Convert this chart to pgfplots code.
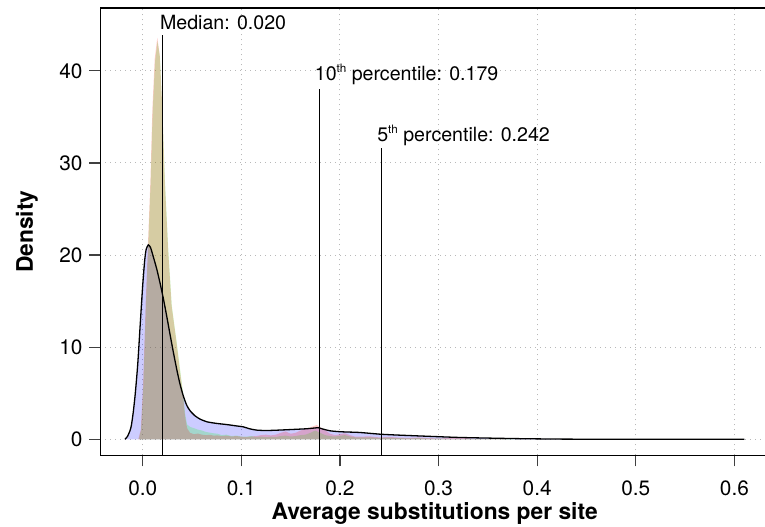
\documentclass[border=0pt]{standalone}
\usepackage{fontspec}
\setmainfont{TeX Gyre Heros}
\usepackage{pgfplots}
\usepackage{pgfplotstable}
\pgfplotsset{compat=1.18}

% overall density (outlined, blue)
\pgfplotstableread{
x y
-0.018 0
-0.0155 0.3
-0.013 0.9
-0.0115 1.5
-0.0095 3.0
-0.0075 5.0
-0.005 8.2
-0.0025 12.5
0 16.7
0.002 19.4
0.0035 20.6
0.0057 21.1
0.008 20.8
0.0108 19.8
0.0142 18.5
0.0175 17.0
0.0209 15.3
0.0243 13.4
0.0277 11.4
0.031 9.5
0.0345 7.6
0.0378 6.0
0.0412 4.7
0.0446 3.7
0.048 3.1
0.053 2.55
0.058 2.2
0.065 1.9
0.075 1.72
0.085 1.6
0.095 1.45
0.102 1.35
0.108 1.15
0.115 1.0
0.125 0.95
0.139 1.0
0.155 1.08
0.166 1.14
0.174 1.22
0.178 1.25
0.183 1.1
0.19 0.92
0.20 0.82
0.21 0.78
0.22 0.74
0.241 0.55
0.26 0.45
0.295 0.3
0.32 0.2
0.345 0.14
0.38 0.07
0.423 0.02
0.45 0.01
0.5 0.005
0.55 0.003
0.61 0
}\bluedens

\pgfplotstableread{
x y
-0.004 0
-0.0017 1.0
0.0006 5.7
0.0034 15
0.0081 28
0.0101 35.5
0.0125 41
0.0150 43.2
0.0175 41.5
0.020 35.5
0.0226 28
0.026 20.5
0.0295 14.5
0.0345 10.5
0.038 7.5
0.041 5.0
0.043 2.8
0.045 1.6
0.048 1.35
0.052 1.2
0.056 1.05
0.060 0.95
0.064 0.8
0.068 0.72
0.072 0.65
0.076 0.6
0.080 0.45
0.085 0.5
0.090 0.35
0.095 0.4
0.100 0.3
0.105 0.28
0.110 0.35
0.115 0.25
0.120 0.3
0.125 0.22
0.130 0.28
0.135 0.25
0.140 0.35
0.145 0.4
0.150 0.3
0.155 0.35
0.160 0.45
0.165 0.5
0.170 0.7
0.175 0.95
0.180 0.7
0.185 0.45
0.190 0.35
0.195 0.3
0.200 0.38
0.205 0.45
0.210 0.3
0.215 0.22
0.220 0.2
0.230 0.22
0.240 0.15
0.250 0.18
0.260 0.12
0.270 0.1
0.280 0.12
0.290 0.08
0.300 0.06
0.320 0.05
0.340 0.03
0.360 0.01
0.380 0
}\greendens

\pgfplotstableread{
x y
-0.0045 0
-0.002 1.0
0.0003 5.7
0.0031 15
0.0078 28
0.0098 35.8
0.0122 41.3
0.0148 43.6
0.0172 41.8
0.020 35.8
0.0224 28
0.0258 20.5
0.0293 14.5
0.0343 10.5
0.0378 7.4
0.0408 4.9
0.0428 2.6
0.045 1.2
0.048 0.7
0.052 0.55
0.056 0.62
0.060 0.5
0.064 0.45
0.068 0.48
0.072 0.4
0.076 0.42
0.080 0.35
0.085 0.4
0.090 0.3
0.095 0.35
0.100 0.28
0.105 0.25
0.110 0.3
0.115 0.35
0.120 0.45
0.125 0.5
0.130 0.42
0.135 0.5
0.140 0.7
0.145 0.85
0.150 0.6
0.155 0.7
0.160 0.95
0.165 1.1
0.170 1.3
0.1765 1.55
0.180 1.3
0.185 1.0
0.190 0.6
0.195 0.45
0.200 0.55
0.205 0.65
0.210 0.45
0.215 0.3
0.220 0.28
0.230 0.32
0.240 0.2
0.250 0.25
0.260 0.18
0.270 0.15
0.280 0.2
0.290 0.12
0.300 0.1
0.310 0.12
0.325 0.15
0.335 0.06
0.350 0.02
0.370 0
}\reddens

\newcommand\thsup{\raisebox{0.85ex}{\fontsize{5.8bp}{5.8bp}\selectfont th}}

\begin{document}
\begin{tikzpicture}
\begin{axis}[
  at={(0,0)}, anchor=south west,
  scale only axis, width=334.2bp, height=223.7bp,
  xmin=-0.0428, xmax=0.635, ymin=-1.74, ymax=46.83,
  xtick={0,0.1,0.2,0.3,0.4,0.5,0.6},
  ytick={0,10,20,30,40},
  tick align=outside, tick pos=left,
  major tick length=5.5bp,
  every tick/.style={black!75, line width=0.6bp},
  axis line style={line width=0.65bp},
  tick label style={font=\fontsize{10.4bp}{12bp}\selectfont},
  /pgf/number format/assume math mode=true,
  xticklabel style={yshift=-3.5bp, /pgf/number format/.cd, fixed, fixed zerofill, precision=1},
  grid=major,
  grid style={black!28, line width=0.5bp, dash pattern=on 0.5bp off 2bp},
  xlabel={\textbf{Average substitutions per site}},
  ylabel={\textbf{Density}},
  label style={font=\fontsize{11.4bp}{13bp}\selectfont},
  xlabel style={at={(axis description cs:0.5,0)}, anchor=base, yshift=-32bp},
  ylabel style={at={(axis description cs:0,0.5)}, anchor=base, yshift=33.8bp},
]
\addplot[draw=none, fill=blue, fill opacity=0.2, smooth, tension=0.4] table {\bluedens} \closedcycle;
\addplot[draw=none, fill=green, fill opacity=0.2] table {\greendens} \closedcycle;
\addplot[draw=none, fill=red, fill opacity=0.2] table {\reddens} \closedcycle;
\addplot[black, line width=0.65bp, smooth, tension=0.4] table {\bluedens};

\addplot[black, line width=0.55bp] coordinates {(0.020,-1.74) (0.020,43.9)};
\addplot[black, line width=0.55bp] coordinates {(0.179,-1.74) (0.179,38.0)};
\addplot[black, line width=0.55bp] coordinates {(0.242,-1.74) (0.242,31.6)};

\node[anchor=base west, inner sep=0pt, font=\fontsize{9.8bp}{12bp}\selectfont]
  at (axis cs:0.0172,44.5) {Median: 0.020};
\node[anchor=base west, inner sep=0pt, font=\fontsize{9.8bp}{12bp}\selectfont]
  at (axis cs:0.1742,38.9) {10\thsup{} percentile: 0.179};
\node[anchor=base west, inner sep=0pt, font=\fontsize{9.8bp}{12bp}\selectfont]
  at (axis cs:0.2375,32.3) {5\thsup{} percentile: 0.242};
\end{axis}
\pgfresetboundingbox
\useasboundingbox (-50.25bp,-35.85bp) rectangle (332.25bp,227.65bp);
\end{tikzpicture}
\end{document}
